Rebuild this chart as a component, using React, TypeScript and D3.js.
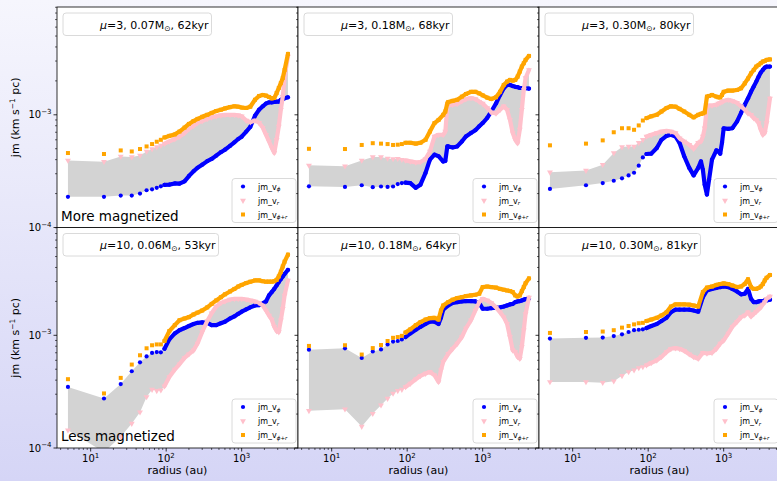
import * as d3 from "d3";
import { useEffect, useRef } from "react";

const W = 777;
const H = 481;
const UNIT = 1e-4; // series below are in units of 1e-4 km s^-1 pc

// radius bins (au)
const radiiA = [5, 15, 25, 35, 45, 55, 65, 75, 85, 95,
  110, 130, 150, 175, 200, 230, 260, 300, 350, 400,
  460, 530, 600, 700, 800, 900, 1000, 1150, 1300, 1500,
  1700, 1900, 2100, 2300, 2500, 2700, 2900, 3100, 3300, 3500,
  3700, 4100];
const radiiB = [5, 15, 25, 35, 45, 55, 65, 75, 85, 95,
  110, 130, 150, 175, 200, 230, 260, 300, 320, 340, 350, 400,
  460, 530, 600, 700, 800, 900, 1000, 1150, 1300, 1500,
  1700, 1900, 2100, 2300, 2500, 2700, 2900, 3100, 3300, 3500,
  3700, 4100];
const radiiC = [5, 15, 25, 35, 45, 55, 65, 75, 85, 95,
  110, 130, 150, 175, 200, 230, 260, 300, 350, 400,
  460, 500, 530, 560, 600, 640, 700, 800, 850, 900, 950, 1000, 1150, 1300, 1500,
  1700, 1900, 2100, 2300, 2500, 2700, 2900, 3100, 3300, 3500,
  3700, 4100];
const radiiD = [5, 15, 25, 35, 45, 55, 65, 75, 85, 95,
  110, 130, 150, 175, 200, 230, 260, 280, 300, 350, 400,
  460, 530, 600, 700, 800, 900, 1000, 1150, 1300, 1500,
  1700, 1900, 2100, 2300, 2500, 2700, 2900, 3100, 3300, 3500,
  3700, 4100];

// mu=3, 0.07 Msun, 62 kyr
const p1Phi = [1.87, 1.87, 1.92, 1.92, 2.0, 2.14, 2.18, 2.25, 2.32, 2.39,
  2.40, 2.46, 2.45, 2.57, 2.86, 3.15, 3.39, 3.61, 3.88, 4.06,
  4.34, 4.66, 4.90, 5.3, 5.7, 6.1, 6.4, 7.1, 7.8, 9.8,
  11.1, 11.9, 12.6, 12.9, 12.9, 13.0, 13.1, 13.1, 13.6, 13.8,
  14.0, 14.3];
const p1R = [3.94, 3.84, 4.27, 4.22, 4.36, 4.73, 4.97, 5.18, 5.35, 5.54,
  5.8, 6.1, 6.4, 6.9, 7.5, 8.0, 8.5, 8.8, 9.2, 9.5,
  9.7, 9.9, 10.0, 10.0, 10.0, 9.9, 9.7, 8.9, 8.6, 8.9,
  8.5, 7.7, 6.65, 5.8, 5.1, 4.6, 6.0, 7.9, 11.1, 14.5,
  21.7, 33.0];
const p1Sum = [4.58, 4.49, 4.83, 4.73, 4.97, 5.24, 5.5, 5.77, 6.0, 6.3,
  6.5, 6.7, 7.1, 7.7, 8.3, 8.8, 9.2, 9.6, 10.0, 10.4,
  10.8, 11.1, 11.4, 11.7, 11.9, 11.8, 11.6, 11.5, 11.8, 13.6,
  14.7, 15.0, 14.8, 14.4, 14.0, 14.1, 15.6, 17.3, 19.1, 21.2,
  25.0, 34.7];

// mu=3, 0.18 Msun, 68 kyr
const p2Phi = [2.32, 2.29, 2.37, 2.28, 2.31, 2.29, 2.31, 2.43, 2.48, 2.50,
  2.48, 2.25, 2.40, 3.05, 4.0, 4.43, 4.29, 3.85, 3.9, 5.24, 5.24, 5.13,
  5.24, 5.8, 6.43, 6.9, 7.3, 7.9, 8.45, 9.4, 10.7, 12.6,
  15.0, 17.2, 18.4, 18.4, 18.0, 17.7, 17.6, 17.3, 17.3, 17.2,
  17.2, 17.1];
const p2R = [3.56, 3.5, 3.94, 4.22, 4.22, 4.1, 4.06, 4.08, 4.0, 3.94,
  3.86, 3.78, 3.81, 4.06, 4.73, 6.43, 6.65, 6.65, 7.1, 11.9, 12.1, 12.3,
  12.5, 13.2, 13.8, 14.1, 13.8, 13.1, 12.6, 11.5, 10.5, 10.3,
  11.1, 11.9, 11.1, 9.0, 6.9, 6.0, 5.6, 7.4, 11.1, 16.6,
  21.2, 25.0];
const p2Sum = [4.99, 4.97, 5.4, 5.6, 5.55, 5.5, 5.4, 5.43, 5.5, 5.65,
  5.65, 5.55, 5.65, 6.0, 7.1, 8.45, 9.0, 10.0, 10.7, 12.6, 13.0, 13.3,
  13.6, 14.5, 15.3, 16.0, 16.0, 15.5, 14.9, 14.2, 13.8, 14.3,
  16.0, 18.4, 19.7, 20.4, 20.1, 20.4, 21.8, 24.2, 26.8, 28.7,
  30.7, 33.3];

// mu=3, 0.30 Msun, 80 kyr
const p3Phi = [2.2, 2.37, 2.48, 2.6, 2.73, 2.9, 3.06, 3.54, 4.19, 4.49,
  4.52, 5.08, 6.0, 6.5, 6.65, 6.43, 5.65, 4.29, 3.38, 2.9,
  3.38, 3.86, 3.26, 2.4, 1.96, 2.66, 4.0, 4.84, 4.73, 4.52, 5.65, 7.6, 7.5, 7.6, 8.7,
  10.4, 12.3, 14.0, 16.0, 17.8, 19.7, 21.8, 23.7, 25.0, 26.2,
  26.8, 26.8];
const p3R = [3.09, 3.2, 3.61, 4.58, 5.18, 5.24, 5.24, 5.65, 6.0, 6.43,
  6.65, 6.9, 7.1, 7.2, 7.1, 6.9, 6.2, 5.8, 5.43, 5.0,
  5.65, 5.8, 6.43, 7.6, 11.9, 12.1, 12.1, 12.3, 12.6, 12.8, 13.0, 13.3, 13.6, 13.3, 12.8,
  11.9, 11.1, 10.3, 10.0, 9.35, 9.0, 8.45, 7.36, 6.65, 6.9,
  8.45, 14.0];
const p3Sum = [5.36, 5.55, 5.93, 7.0, 7.6, 7.6, 7.36, 8.05, 8.9, 9.35,
  9.7, 10.0, 10.7, 11.5, 11.9, 11.8, 11.3, 10.7, 10.0, 9.5,
  10.0, 10.2, 10.3, 10.5, 14.5, 14.7, 15.0, 14.5, 14.3, 14.3, 15.0, 16.0, 16.4, 16.4, 16.6,
  17.2, 19.0, 21.0, 23.3, 25.0, 26.8, 27.7, 28.7, 29.7, 30.0,
  30.7, 31.0];

// mu=10, 0.06 Msun, 53 kyr
const p4Phi = [3.48, 2.75, 3.69, 4.8, 5.76, 6.5, 6.97, 7.1, 7.07, 7.6,
  9.2, 10.4, 11.1, 11.6, 12.1, 12.6, 12.9, 13.0, 12.9, 12.3,
  12.3, 12.8, 13.2, 14.1, 14.7, 15.5, 16.2, 17.0, 17.7, 18.4,
  18.5, 19.2, 20.0, 22.6, 24.2, 25.8, 27.7, 29.7, 31.5, 33.3,
  35.0, 38.0];
const p4R = [1.44, 0.92, 1.26, 1.65, 2.08, 2.84, 3.3, 3.22, 3.26, 3.54,
  4.27, 4.97, 5.55, 6.3, 6.8, 7.36, 8.45, 10.7, 13.4, 15.7,
  18.0, 19.4, 20.0, 20.8, 21.1, 21.1, 21.1, 20.8, 20.4, 20.0,
  19.4, 18.4, 16.6, 15.0, 13.8, 11.9, 10.9, 10.7, 13.6, 17.2,
  22.6, 30.7];
const p4Sum = [4.08, 3.05, 4.19, 5.5, 6.65, 7.67, 8.16, 8.3, 8.3, 8.9,
  10.9, 12.3, 13.6, 14.1, 14.5, 15.3, 15.9, 16.6, 17.7, 19.0,
  20.4, 21.8, 23.1, 24.5, 25.8, 27.1, 28.0, 29.1, 29.9, 30.7,
  30.7, 30.2, 29.9, 29.9, 29.9, 30.2, 31.0, 33.3, 36.6, 40.8,
  45.0, 52.0];

// mu=10, 0.18 Msun, 64 kyr
const p5Phi = [7.45, 7.67, 6.3, 7.2, 7.5, 8.3, 8.8, 8.9, 9.2, 9.65,
  10.4, 11.2, 11.9, 12.6, 13.2, 13.2, 12.6, 14.3, 16.9, 18.4, 19.4,
  19.7, 20.0, 20.1, 20.1, 20.0, 19.4, 17.2, 17.2, 17.4, 17.6,
  17.7, 18.0, 18.4, 18.8, 19.0, 19.7, 20.0, 20.1, 20.4, 20.7,
  21.0, 21.2];
const p5R = [2.14, 2.21, 1.55, 2.02, 2.40, 2.75, 3.05, 3.22, 3.3, 3.48,
  3.73, 4.08, 4.37, 4.58, 4.73, 4.43, 3.86, 4.9, 5.8, 6.85, 7.6,
  8.45, 9.65, 11.5, 13.6, 16.6, 19.7, 21.1, 20.4, 19.4, 17.7,
  16.0, 14.5, 12.7, 9.65, 7.36, 7.1, 6.43, 6.2, 7.9, 11.1,
  15.5, 21.7];
const p5Sum = [8.05, 8.16, 6.75, 7.7, 8.2, 8.9, 9.5, 9.65, 9.9, 10.6,
  11.3, 12.3, 13.1, 13.8, 14.2, 14.3, 13.8, 16.6, 18.4, 19.7, 20.7,
  21.4, 21.8, 22.3, 22.6, 22.9, 23.4, 26.8, 27.1, 26.8, 26.5,
  25.8, 25.4, 25.0, 24.7, 24.2, 22.6, 22.1, 22.6, 24.7, 26.8,
  29.0, 32.0];

// mu=10, 0.30 Msun, 81 kyr
const p6Phi = [9.35, 9.5, 9.55, 9.85, 10.2, 10.7, 11.1, 11.2, 11.3, 11.6,
  12.1, 12.6, 13.4, 14.3, 16.0, 16.9, 16.9, 16.9, 16.9, 16.6,
  16.2, 21.8, 25.0, 25.8, 26.3, 26.8, 27.1, 26.8, 25.8, 24.5,
  23.1, 23.4, 25.8, 21.1, 19.7, 19.7, 20.0, 20.1, 20.1, 20.4,
  20.4, 20.7];
const p6R = [3.86, 3.86, 3.8, 3.92, 4.37, 4.73, 4.9, 5.13, 5.24, 5.43,
  5.7, 6.0, 6.43, 7.1, 7.6, 7.7, 7.6, 7.3, 6.8, 6.43,
  6.2, 7.0, 6.9, 7.0, 7.6, 8.45, 9.0, 10.4, 11.9, 13.2,
  14.5, 15.0, 16.0, 14.7, 15.5, 16.2, 17.0, 17.7, 18.8, 19.7,
  21.1, 22.1];
const p6Sum = [10.5, 10.7, 10.8, 11.1, 11.7, 12.1, 12.5, 12.8, 12.9, 13.4,
  13.8, 14.3, 15.0, 16.0, 18.0, 18.8, 18.8, 18.8, 18.7, 18.4,
  18.0, 24.2, 26.5, 27.1, 28.0, 28.5, 28.9, 28.5, 27.7, 26.8,
  27.1, 28.5, 31.4, 26.8, 25.8, 25.8, 26.3, 27.1, 28.5, 30.7,
  32.4, 34.3];

const panelMu = ["3", "3", "3", "10", "10", "10"];
const panelMass = ["0.07", "0.18", "0.30", "0.06", "0.18", "0.30"];
const panelAge = ["62", "68", "80", "53", "64", "81"];
const rowNotes = ["More magnetized", "Less magnetized"];
const legendSubs = ["ϕ", "r", "ϕ+r"];
const xMajor = [10, 100, 1000];
const xMajorExp = ["1", "2", "3"];
const yMajor = [1e-4, 1e-3];
const yMajorExp = ["−4", "−3"];

const BLUE = "#0000ff";
const PINK = "#ffc0cb";
const ORANGE = "#ffa500";
const FILL = "#d3d3d3";
const FONT = "DejaVu Sans, sans-serif";

const DENSE_FROM = 95; // beyond this radius the markers overlap into a band

export default function App() {
  const ref = useRef<SVGSVGElement>(null);

  useEffect(() => {
    const panels = [
      { radii: radiiA, phi: p1Phi, r: p1R, sum: p1Sum },
      { radii: radiiB, phi: p2Phi, r: p2R, sum: p2Sum },
      { radii: radiiC, phi: p3Phi, r: p3R, sum: p3Sum },
      { radii: radiiA, phi: p4Phi, r: p4R, sum: p4Sum },
      { radii: radiiD, phi: p5Phi, r: p5R, sum: p5Sum },
      { radii: radiiA, phi: p6Phi, r: p6R, sum: p6Sum },
    ];

    const svg = d3.select(ref.current);
    svg.selectAll("*").remove();
    svg.attr("font-family", FONT);

    const defs = svg.append("defs");
    const grad = defs.append("linearGradient").attr("id", "bg")
      .attr("x1", 0).attr("y1", 0).attr("x2", 0).attr("y2", 1);
    grad.append("stop").attr("offset", "0%").attr("stop-color", "#f6f6fd");
    grad.append("stop").attr("offset", "100%").attr("stop-color", "#d5d5f6");
    svg.append("rect").attr("width", W).attr("height", H).attr("fill", "url(#bg)");

    const L0 = 57, PW = 241, T0 = 7, PH = 220.5;

    const marker = (g, kind, px, py, color) => {
      if (kind === 0) {
        g.append("circle").attr("cx", px).attr("cy", py).attr("r", 2.1).attr("fill", color);
      } else if (kind === 1) {
        g.append("path")
          .attr("d", d3.symbol().type(d3.symbolTriangle).size(15)())
          .attr("transform", `translate(${px},${py}) rotate(180)`)
          .attr("fill", color);
      } else {
        g.append("rect").attr("x", px - 2).attr("y", py - 2)
          .attr("width", 4).attr("height", 4).attr("fill", color);
      }
    };

    const sup = (t, base, exp, size) => {
      t.append("tspan").text(base);
      t.append("tspan").attr("dy", -size * 0.45).attr("font-size", size * 0.7).text(exp);
    };

    panels.forEach((p, i) => {
      const col = i % 3;
      const row = Math.floor(i / 3);
      const L = L0 + col * PW;
      const T = T0 + row * PH;
      const B = T + PH;

      const x = d3.scaleLog().domain([3.58, 5570]).range([L, L + PW]);
      const y = d3.scaleLog().domain([1e-4, 9.05e-3]).range([B, T]);

      const clipId = `clip${i}`;
      defs.append("clipPath").attr("id", clipId)
        .append("rect").attr("x", L).attr("y", T).attr("width", PW).attr("height", PH);

      svg.append("rect").attr("x", L).attr("y", T).attr("width", PW).attr("height", PH)
        .attr("fill", "white");

      const g = svg.append("g").attr("clip-path", `url(#${clipId})`);

      const idx = p.radii.map((_, k) => k);
      const area = d3.area()
        .x(k => x(p.radii[k]))
        .y0(k => y(p.r[k] * UNIT))
        .y1(k => y(p.phi[k] * UNIT));
      g.append("path").attr("d", area(idx)).attr("fill", FILL);

      const series = [
        { vals: p.phi, color: BLUE, kind: 0 },
        { vals: p.r, color: PINK, kind: 1 },
        { vals: p.sum, color: ORANGE, kind: 2 },
      ];
      series.forEach(s => {
        const pts = p.radii.map((r, k) => [x(r), y(s.vals[k] * UNIT)]);
        const dense = pts.filter((_, k) => p.radii[k] >= DENSE_FROM);
        g.append("path").attr("d", d3.line()(dense))
          .attr("fill", "none").attr("stroke", s.color)
          .attr("stroke-width", 4.2).attr("stroke-linejoin", "round")
          .attr("stroke-linecap", "round");
        pts.forEach(([px, py]) => marker(g, s.kind, px, py, s.color));
      });

      // frame
      svg.append("rect").attr("x", L).attr("y", T).attr("width", PW).attr("height", PH)
        .attr("fill", "none").attr("stroke", "#000").attr("stroke-width", 0.8);

      // x ticks
      const xMinor = [];
      [1, 10, 100, 1000].forEach(d => {
        for (let k = 2; k <= 9; k++) {
          const v = k * d;
          if (v > 3.58 && v < 5570) xMinor.push(v);
        }
      });
      xMinor.forEach(v => {
        svg.append("line").attr("x1", x(v)).attr("x2", x(v)).attr("y1", B).attr("y2", B + 2)
          .attr("stroke", "#000").attr("stroke-width", 0.6);
      });
      xMajor.forEach((v, k) => {
        svg.append("line").attr("x1", x(v)).attr("x2", x(v)).attr("y1", B).attr("y2", B + 3.5)
          .attr("stroke", "#000").attr("stroke-width", 0.8);
        if (row === 1) {
          const t = svg.append("text").attr("x", x(v)).attr("y", B + 14)
            .attr("text-anchor", "middle").attr("font-size", 10);
          sup(t, "10", xMajorExp[k], 10);
        }
      });

      // y ticks
      const yMinor = [];
      [1e-4, 1e-3].forEach(d => {
        for (let k = 2; k <= 9; k++) {
          const v = k * d;
          if (v < 9.05e-3) yMinor.push(v);
        }
      });
      yMinor.forEach(v => {
        svg.append("line").attr("x1", L - 2).attr("x2", L).attr("y1", y(v)).attr("y2", y(v))
          .attr("stroke", "#000").attr("stroke-width", 0.6);
      });
      yMajor.forEach((v, k) => {
        svg.append("line").attr("x1", L - 3.5).attr("x2", L).attr("y1", y(v)).attr("y2", y(v))
          .attr("stroke", "#000").attr("stroke-width", 0.8);
        if (col === 0) {
          const t = svg.append("text").attr("x", L - 5.5).attr("y", y(v) + 3.5)
            .attr("text-anchor", "end").attr("font-size", 10);
          sup(t, "10", yMajorExp[k], 10);
        }
      });

      // title box
      const tx = L + 43;
      const title = svg.append("text").attr("x", tx).attr("y", T + 21.5).attr("font-size", 11);
      title.append("tspan").attr("font-style", "italic").text("μ");
      title.append("tspan").text(`=${panelMu[i]}, ${panelMass[i]}M`);
      title.append("tspan").attr("font-size", 7.5).attr("dy", 2).text("⊙");
      title.append("tspan").attr("dy", -2).text(`, ${panelAge[i]}kyr`);
      const tw = (title.node() as SVGTextElement).getComputedTextLength();
      svg.insert("rect", () => title.node())
        .attr("x", L + 6).attr("y", T + 6).attr("width", 37 + tw + 3).attr("height", 22.5)
        .attr("rx", 3).attr("fill", "white").attr("fill-opacity", 0.85)
        .attr("stroke", "#d0d0d0").attr("stroke-width", 0.8);

      // legend
      const lg = svg.append("g");
      lg.append("rect").attr("x", L + 175).attr("y", B - 49).attr("width", 64).attr("height", 44)
        .attr("rx", 3).attr("fill", "white").attr("fill-opacity", 0.85)
        .attr("stroke", "#d0d0d0").attr("stroke-width", 0.8);
      series.forEach((s, k) => {
        const ly = B - 41 + k * 14;
        marker(lg, s.kind, L + 186, ly, s.color);
        const t = lg.append("text").attr("x", L + 201).attr("y", ly + 3).attr("font-size", 8);
        t.append("tspan").text("jm_v");
        t.append("tspan").attr("font-size", 5.5).attr("dy", 1.8).attr("font-style", "italic")
          .text(legendSubs[k]);
      });

      if (col === 0) {
        svg.append("text").attr("x", L + 4).attr("y", B - 7).attr("font-size", 13.5)
          .text(rowNotes[row]);
        const yl = svg.append("text")
          .attr("transform", `translate(19,${T + PH / 2}) rotate(-90)`)
          .attr("text-anchor", "middle").attr("font-size", 11);
        yl.append("tspan").text("jm (km s");
        yl.append("tspan").attr("font-size", 7.5).attr("dy", -4.5).text("−1");
        yl.append("tspan").attr("dy", 4.5).text(" pc)");
      }
      if (row === 1) {
        svg.append("text").attr("x", L + PW / 2).attr("y", B + 26)
          .attr("text-anchor", "middle").attr("font-size", 11).text("radius (au)");
      }
    });
  }, []);

  return (
    <svg ref={ref} width={W} height={H}
      style={{ position: "absolute", left: 0, top: 0, display: "block" }} />
  );
}
